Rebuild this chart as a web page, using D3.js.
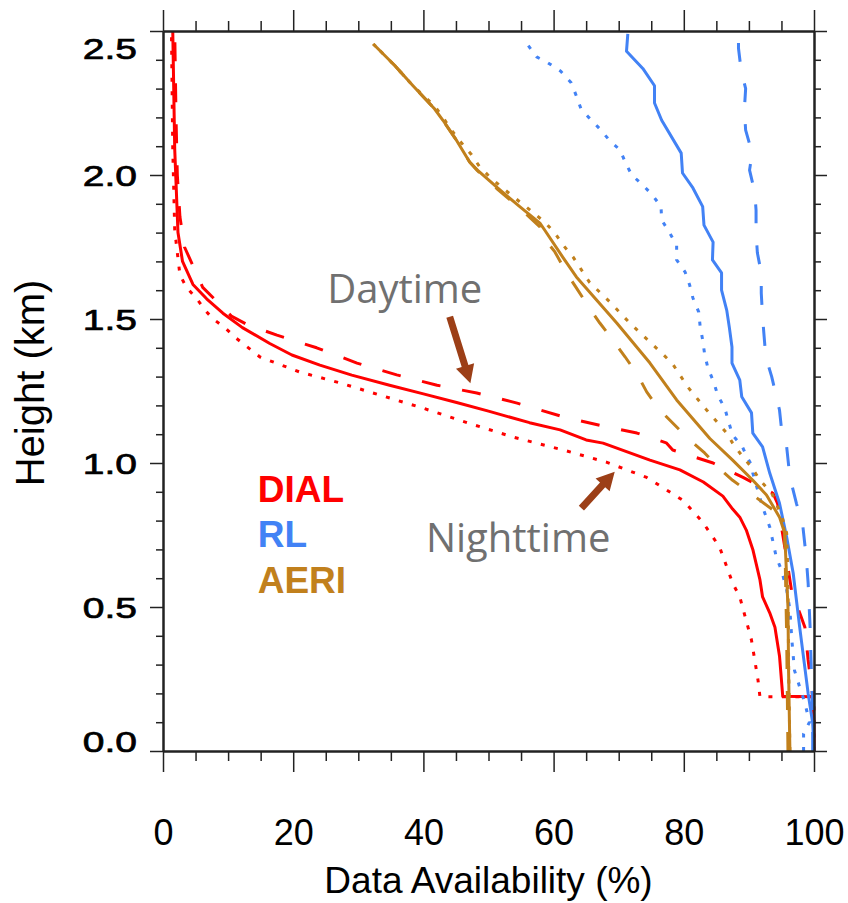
<!DOCTYPE html>
<html>
<head>
<meta charset="utf-8">
<script src="https://cdn.jsdelivr.net/npm/d3@7"></script>
<style>
  body { margin: 0; background: #fff; }
  svg { display: block; }
  .axis path, .axis line { stroke: #222; }
  .axis path { stroke-width: 2; }
  .axis line { stroke-width: 1.5; }
  .curve { fill: none; stroke-width: 3; stroke-linejoin: round; }
</style>
</head>
<body>
<div id="chartArea"></div>
<script>
// [availability %, height km]
const dialAll = [[100,0],[100,0.1],[99.8,0.188],[95.2,0.19],[94.7,0.33],[94.0,0.43],[93.2,0.48],[92.1,0.535],[91.7,0.594],[90.6,0.70],[89.6,0.767],[88.6,0.812],[87.5,0.84],[86,0.885],[83,0.934],[79.4,0.976],[74.8,1.01],[67.6,1.069],[65,1.08],[61,1.115],[56.3,1.14],[50,1.18],[45.1,1.21],[40,1.24],[34.8,1.27],[29,1.305],[24.1,1.34],[19.8,1.375],[16.4,1.415],[12.2,1.47],[9.2,1.52],[6.7,1.57],[4.6,1.62],[3.0,1.70],[2.3,1.80],[1.8,2.09],[1.5,2.5]];
const dialDay = [[100,0],[99.8,0.19],[99.1,0.316],[98.6,0.43],[97.8,0.48],[96.6,0.55],[95.5,0.71],[94.4,0.86],[93.7,0.895],[89.1,0.95],[84.5,1.0],[78.3,1.045],[77.3,1.07],[72.8,1.104],[68.2,1.125],[61.5,1.16],[54.4,1.208],[48.2,1.243],[42.1,1.27],[35.9,1.306],[29.8,1.347],[23.6,1.40],[17.5,1.444],[13,1.48],[10.5,1.51],[6.1,1.61],[3.3,1.75],[2.6,1.855],[2.2,2.0],[2.0,2.2],[1.8,2.5]];
const dialNight = [[100,0],[100,0.15],[99.8,0.188],[91.7,0.188],[91.4,0.246],[90.4,0.385],[88.6,0.535],[87.5,0.583],[85.5,0.708],[82.9,0.795],[79.9,0.87],[74.3,0.95],[68.1,1.003],[61.5,1.045],[53.8,1.09],[46.7,1.14],[40,1.19],[33.3,1.236],[27.2,1.278],[21,1.316],[14.9,1.368],[11.2,1.434],[9.5,1.47],[7.7,1.50],[6.5,1.53],[5.1,1.573],[3.6,1.61],[2.6,1.653],[2.1,1.75],[1.8,1.81],[1.5,2.09],[1.3,2.5]];

const rlAll = [[100,0],[99.8,0.097],[99.1,0.2],[97.8,0.43],[96.8,0.618],[95.8,0.743],[94.7,0.86],[93.2,0.965],[92.1,1.056],[90.6,1.104],[90.4,1.174],[88.9,1.23],[88.6,1.288],[87.4,1.347],[87.4,1.403],[87.0,1.47],[86.6,1.53],[85.8,1.6],[85.8,1.66],[84.4,1.705],[84.5,1.767],[83.1,1.826],[82.9,1.89],[81.4,1.955],[79.8,2.007],[79.6,2.076],[76.6,2.19],[75.5,2.25],[75.5,2.31],[73.7,2.37],[71.2,2.43],[71.4,2.49]];
const rlDay = [[99.8,0],[99.8,0.153],[99.6,0.27],[99.4,0.43],[99.1,0.583],[98.8,0.674],[98.3,0.778],[97.3,0.86],[96.3,0.95],[95.8,1.056],[95.0,1.12],[94.7,1.184],[93.5,1.3],[92.6,1.368],[92.3,1.45],[92.1,1.507],[91.9,1.59],[91.9,1.66],[91.3,1.73],[91.1,1.8],[91.1,1.878],[90.9,1.94],[90.1,2.017],[90.5,2.076],[89.5,2.156],[89.3,2.226],[89.5,2.3],[88.8,2.365],[88.4,2.44],[88.4,2.49]];
const rlNight = [[98.4,0],[98.4,0.06],[99.3,0.1],[98.6,0.167],[97.8,0.222],[97.0,0.28],[96.6,0.385],[96.3,0.49],[95.8,0.56],[95.0,0.628],[94.2,0.674],[93.2,0.778],[92.1,0.847],[90.6,0.965],[90.4,0.993],[89.8,1.017],[89.0,1.056],[87.5,1.097],[86.9,1.142],[86.3,1.19],[85.2,1.236],[84.6,1.281],[83.7,1.33],[83.2,1.378],[82.9,1.427],[82.5,1.476],[82.3,1.524],[81.4,1.573],[80.9,1.618],[80.2,1.663],[78.9,1.705],[78.9,1.757],[77.8,1.8],[76.6,1.844],[76.5,1.89],[75.2,1.93],[73.7,1.965],[72.0,2.0],[71.1,2.04],[70.2,2.087],[68.6,2.12],[67.1,2.16],[65.4,2.2],[64.2,2.23],[63.4,2.28],[62.7,2.32],[61.1,2.36],[59.1,2.39],[57.4,2.41],[56.1,2.45]];

const aeriAll = [[96.3,0],[96.1,0.27],[96.0,0.5],[95.5,0.757],[94.7,0.812],[92.7,0.889],[90.6,0.94],[87.5,1.01],[84,1.085],[78.9,1.219],[74.8,1.347],[69.7,1.486],[63.5,1.646],[61.4,1.715],[58.6,1.81],[57.9,1.833],[54.8,1.89],[51.4,1.955],[48.3,2.017],[47.1,2.045],[45.1,2.12],[43,2.19],[41.7,2.23],[38.4,2.31],[35.6,2.38],[32.3,2.455]];
const aeriDay = [[96.0,0],[95.8,0.4],[95.5,0.757],[95.1,0.8],[93.7,0.837],[90.6,0.889],[87.5,0.94],[85.5,0.98],[83.2,1.035],[80.9,1.08],[78.6,1.132],[76.3,1.184],[74.3,1.247],[72.9,1.306],[71.0,1.368],[69.1,1.427],[67.1,1.486],[65.5,1.538],[63.5,1.608],[62.0,1.66],[60.2,1.733],[58.4,1.785],[57.9,1.82],[54.8,1.885],[51.4,1.95],[48.3,2.015],[47.1,2.045],[45.1,2.12],[43,2.19],[41.7,2.23],[38.4,2.31],[35.6,2.38],[32.3,2.455]];
const aeriNight = [[96.3,0],[96.1,0.3],[96,0.6],[95.8,0.757],[95.1,0.812],[93.5,0.896],[91.7,0.94],[90.4,0.986],[89.1,1.02],[87.5,1.069],[86.6,1.104],[83.5,1.184],[80.6,1.264],[78.2,1.347],[74.8,1.42],[71.7,1.486],[68.6,1.56],[65.5,1.628],[63.0,1.715],[61.6,1.753],[60.3,1.795],[58.8,1.833],[57.1,1.865],[55.4,1.896],[53.7,1.927],[52,1.958],[50.2,1.993],[48.6,2.03],[47.4,2.07],[45.9,2.11],[44.5,2.15],[43,2.2],[41.7,2.24],[38.4,2.31],[35.6,2.38],[32.3,2.455]];

const xTicks = [0, 20, 40, 60, 80, 100];
const yTicks = [0, 0.5, 1.0, 1.5, 2.0, 2.5];
const legendNames = ['DIAL', 'RL', 'AERI'];

const red = '#ff0000', blue = '#4282f5', brown = '#c1801c';

let series = [
    { data: dialAll, color: red, style: 'solid' },
    { data: dialDay, color: red, style: 'dash' },
    { data: dialNight, color: red, style: 'dot' },
    { data: rlAll, color: blue, style: 'solid' },
    { data: rlDay, color: blue, style: 'dash' },
    { data: rlNight, color: blue, style: 'dot' },
    { data: aeriAll, color: brown, style: 'solid' },
    { data: aeriDay, color: brown, style: 'dash' },
    { data: aeriNight, color: brown, style: 'dot' }
];

let margins = { top: 31, right: 34, bottom: 152, left: 163 };
let svgWidth = 848 - margins.left - margins.right,
    svgHeight = 903 - margins.top - margins.bottom;

let svg = d3.select('#chartArea')
    .append('svg')
    .attr('width', 848)
    .attr('height', 903);

let chart = svg.append('g')
    .attr('transform', 'translate(' + margins.left + ',' + margins.top + ')');

let xScale = d3.scaleLinear().domain([0, 100]).range([0, svgWidth]);
let yScale = d3.scaleLinear().domain([0, 2.5]).range([svgHeight, 0]);

let xMinor = d3.range(0, 101, 5).filter(v => v % 20 !== 0);
let yMinor = d3.range(0, 26, 1).map(v => v / 10).filter(v => Math.round(v * 10) % 5 !== 0);

let line = d3.line()
    .x(d => xScale(d[0]))
    .y(d => yScale(d[1]));

// curves
series.forEach(s => {
    let p = chart.append('path')
        .attr('class', 'curve')
        .attr('stroke', s.color)
        .attr('d', line(s.data));
    if (s.style === 'dash') p.attr('stroke-dasharray', '19,22');
    if (s.style === 'dot') p.attr('stroke-width', 4).attr('stroke-dasharray', '4,9.5');
});

// axes: major + minor, all four sides, ticks outward
function addAxis(axisFn, scale, values, size, transform, withLabels) {
    let g = chart.append('g')
        .attr('class', 'axis')
        .attr('transform', transform)
        .call(axisFn(scale).tickValues(values).tickSize(size).tickSizeOuter(0)
            .tickFormat(withLabels ? null : ''));
    return g;
}

addAxis(d3.axisBottom, xScale, xMinor, 10, 'translate(0,' + svgHeight + ')', false);
let xAxis = addAxis(d3.axisBottom, xScale, xTicks, 21, 'translate(0,' + svgHeight + ')', true);
addAxis(d3.axisTop, xScale, xMinor, 10, 'translate(0,0)', false);
addAxis(d3.axisTop, xScale, xTicks, 21, 'translate(0,0)', false);
addAxis(d3.axisLeft, yScale, yMinor, 7, 'translate(0,0)', false);
let yAxis = addAxis(d3.axisLeft, yScale, yTicks, 13, 'translate(0,0)', true);
addAxis(d3.axisRight, yScale, yMinor, 7, 'translate(' + svgWidth + ',0)', false);
addAxis(d3.axisRight, yScale, yTicks, 13, 'translate(' + svgWidth + ',0)', false);

xAxis.selectAll('text')
    .attr('y', 94)
    .attr('dy', 0)
    .style('font-family', 'Liberation Sans, Arial, sans-serif')
    .style('font-size', '36px')
    .attr('fill', '#000');

yAxis.selectAll('.tick text')
    .attr('x', 0)
    .attr('dy', '0.36em')
    .style('font-family', 'Liberation Sans, Arial, sans-serif')
    .style('font-size', '30px')
    .attr('fill', '#000')
    .attr('stroke', '#000')
    .attr('stroke-width', 0.7)
    .attr('transform', d => {
        let nudge = d === 2.5 ? 17 : (d === 0 ? -10 : 0);
        return 'translate(-26,' + nudge + ') scale(1.3,1)';
    })
    .text(d => d3.format('.1f')(d));

// axis titles
chart.append('text')
    .attr('x', svgWidth / 2)
    .attr('y', svgHeight + 142)
    .attr('text-anchor', 'middle')
    .style('font-family', 'Liberation Sans, Arial, sans-serif')
    .style('font-size', '37px')
    .text('Data Availability (%)');

chart.append('text')
    .attr('transform', 'rotate(-90)')
    .attr('x', -yScale(1.278))
    .attr('y', -margins.left + 44)
    .attr('text-anchor', 'middle')
    .style('font-family', 'Liberation Sans, Arial, sans-serif')
    .style('font-size', '40px')
    .text('Height (km)');

// legend text
let legendColors = [red, blue, brown];
let legendY = [0.865, 0.708, 0.549];
legendNames.forEach((name, i) => {
    chart.append('text')
        .attr('x', xScale(14.55))
        .attr('y', yScale(legendY[i]))
        .style('font-family', 'Liberation Sans, Arial, sans-serif')
        .style('font-size', '37px')
        .style('font-weight', 'bold')
        .attr('fill', legendColors[i])
        .text(name);
});

// annotations
function addArrow(from, to) {
    let x0 = xScale(from[0]), y0 = yScale(from[1]);
    let x1 = xScale(to[0]), y1 = yScale(to[1]);
    let dx = x1 - x0, dy = y1 - y0, len = Math.sqrt(dx * dx + dy * dy);
    let ux = dx / len, uy = dy / len, nx = -uy, ny = ux;
    let head = 18, shaft = 3.5, wing = 9.5;
    let bx = x1 - ux * head, by = y1 - uy * head;
    let pts = [
        [x0 + nx * shaft, y0 + ny * shaft],
        [bx + nx * shaft, by + ny * shaft],
        [bx + nx * wing, by + ny * wing],
        [x1, y1],
        [bx - nx * wing, by - ny * wing],
        [bx - nx * shaft, by - ny * shaft],
        [x0 - nx * shaft, y0 - ny * shaft]
    ];
    chart.append('path')
        .attr('d', 'M' + pts.map(p => p.join(',')).join('L') + 'Z')
        .attr('fill', '#9c3f17');
}

addArrow([44.04, 1.508], [47.22, 1.277]);
addArrow([64.27, 0.843], [69.39, 0.970]);

chart.append('text')
    .attr('x', xScale(37.13))
    .attr('y', yScale(1.556))
    .attr('text-anchor', 'middle')
    .style('font-family', 'Open Sans, sans-serif')
    .style('font-size', '40px')
    .attr('fill', '#707070')
    .text('Daytime');

chart.append('text')
    .attr('x', xScale(54.56))
    .attr('y', yScale(0.691))
    .attr('text-anchor', 'middle')
    .style('font-family', 'Open Sans, sans-serif')
    .style('font-size', '40px')
    .attr('fill', '#707070')
    .text('Nighttime');
</script>
</body>
</html>
